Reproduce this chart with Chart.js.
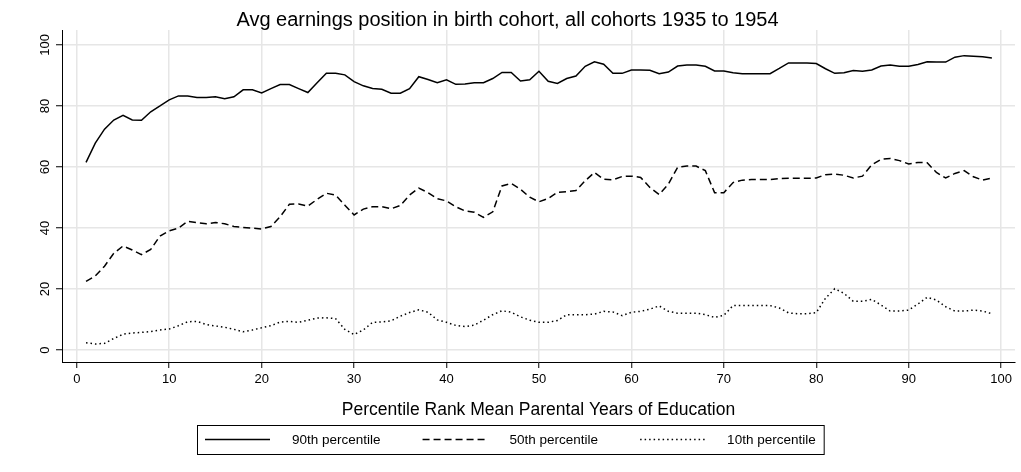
<!DOCTYPE html>
<html>
<head>
<meta charset="utf-8">
<script src="https://cdn.jsdelivr.net/npm/chart.js@4/dist/chart.umd.min.js"></script>
<style>
  html, body { margin: 0; padding: 0; background: #fff; }
  #wrap { width: 1021px; height: 472px; }
</style>
</head>
<body>
<div id="wrap"><canvas id="chart" width="1021" height="472"></canvas></div>
<script>
// percentile rank of mean parental years of education
const ranks = [1, 2, 3, 4, 5, 6, 7, 8, 9, 10, 11, 12, 13, 14, 15, 16, 17, 18, 19, 20,
  21, 22, 23, 24, 25, 26, 27, 28, 29, 30, 31, 32, 33, 34, 35, 36, 37, 38, 39, 40,
  41, 42, 43, 44, 45, 46, 47, 48, 49, 50, 51, 52, 53, 54, 55, 56, 57, 58, 59, 60,
  61, 62, 63, 64, 65, 66, 67, 68, 69, 70, 71, 72, 73, 74, 75, 76, 77, 78, 79, 80,
  81, 82, 83, 84, 85, 86, 87, 88, 89, 90, 91, 92, 93, 94, 95, 96, 97, 98, 99];

const p90 = [61.5, 67.8, 72.4, 75.4, 76.9, 75.4, 75.3, 78.1, 80.0, 82.0,
  83.3, 83.3, 82.8, 82.8, 83.0, 82.4, 83.0, 85.3, 85.3, 84.3,
  85.7, 87.0, 87.0, 85.7, 84.4, 87.6, 90.7, 90.7, 90.2, 88.0,
  86.6, 85.7, 85.5, 84.2, 84.2, 85.7, 89.6, 88.7, 87.6, 88.6,
  87.1, 87.2, 87.6, 87.6, 89.0, 91.0, 91.0, 88.2, 88.6, 91.4,
  88.1, 87.4, 89.0, 89.8, 93.0, 94.5, 93.7, 90.7, 90.7, 91.8,
  91.8, 91.7, 90.6, 91.1, 93.1, 93.4, 93.4, 93.0, 91.5, 91.5,
  90.9, 90.6, 90.6, 90.6, 90.6, 92.3, 94.1, 94.1, 94.1, 93.9,
  92.2, 90.7, 90.9, 91.6, 91.4, 91.8, 93.1, 93.4, 93.0, 93.0,
  93.6, 94.5, 94.4, 94.4, 96.0, 96.5, 96.3, 96.1, 95.7];

const p50 = [22.5, 24.3, 27.5, 31.7, 34.1, 32.8, 31.3, 33.0, 37.4, 39.1,
  40.0, 42.2, 41.8, 41.4, 41.8, 41.4, 40.5, 40.2, 40.0, 39.7,
  40.5, 43.7, 47.8, 47.9, 47.2, 49.4, 51.4, 50.8, 47.5, 44.3,
  46.2, 47.0, 47.0, 46.3, 47.4, 50.8, 53.1, 51.6, 49.6, 48.9,
  47.0, 45.6, 45.2, 43.5, 45.3, 53.8, 54.6, 52.7, 50.1, 48.6,
  49.7, 51.7, 51.9, 52.3, 55.5, 58.2, 56.0, 55.8, 56.9, 57.0,
  56.6, 53.3, 51.0, 54.4, 59.9, 60.3, 60.3, 58.8, 51.6, 51.6,
  54.9, 55.7, 55.9, 55.9, 55.9, 56.2, 56.3, 56.3, 56.3, 56.4,
  57.5, 57.7, 57.3, 56.4, 57.0, 60.7, 62.5, 62.8, 62.1, 61.0,
  61.5, 61.4, 58.2, 56.4, 57.9, 58.8, 56.8, 55.7, 56.4];

const p10 = [2.4, 2.0, 2.2, 3.8, 5.2, 5.6, 5.8, 6.1, 6.6, 6.9,
  8.0, 9.3, 9.4, 8.4, 7.9, 7.5, 6.8, 6.0, 6.6, 7.3,
  8.0, 9.2, 9.4, 9.1, 9.8, 10.5, 10.6, 10.3, 6.8, 5.1,
  6.6, 9.1, 9.2, 9.6, 11.1, 12.3, 13.2, 12.4, 9.9, 9.1,
  8.1, 7.7, 8.2, 9.8, 11.6, 12.9, 12.4, 10.9, 9.8, 9.1,
  9.1, 9.7, 11.6, 11.6, 11.6, 11.8, 12.7, 12.5, 11.3, 12.4,
  12.7, 13.4, 14.5, 12.7, 12.1, 12.1, 12.1, 11.6, 10.7, 11.4,
  14.6, 14.6, 14.6, 14.6, 14.6, 13.8, 12.2, 11.9, 11.9, 12.3,
  17.0, 20.1, 18.6, 16.0, 16.0, 16.6, 14.8, 12.8, 12.8, 13.1,
  15.1, 17.3, 16.4, 14.2, 12.8, 12.8, 13.1, 12.8, 11.9];

const xTicks = [0, 10, 20, 30, 40, 50, 60, 70, 80, 90, 100];
const yTicks = [0, 20, 40, 60, 80, 100];

const FONT = "'Liberation Sans', Arial, sans-serif";
Chart.defaults.font.family = FONT;
Chart.defaults.color = '#000';

const toPoints = vals => ranks.map((r, i) => ({ x: r, y: vals[i] }));

// Stata-like boxed legend under the x-axis title
const boxLegend = {
  id: 'boxLegend',
  afterDraw(chart) {
    const ctx = chart.ctx;
    const sets = chart.data.datasets;
    const sample = 65, gapText = 22, gapItem = 42, padX = 8;
    ctx.save();
    ctx.font = '13.5px ' + FONT;
    const widths = sets.map(d => sample + gapText + ctx.measureText(d.label).width);
    const total = widths.reduce((a, b) => a + b, 0) + gapItem * (sets.length - 1);
    const top = chart.height - 47, h = 29, cy = top + h / 2;
    let x = Math.round(chart.width / 2 - total / 2);
    ctx.strokeStyle = '#000';
    ctx.lineWidth = 1;
    ctx.strokeRect(x - padX + 0.5, top + 0.5, total + padX * 2, h);
    sets.forEach((d, i) => {
      ctx.beginPath();
      ctx.setLineDash(d.borderDash || []);
      ctx.lineWidth = d.borderWidth;
      ctx.moveTo(x, cy);
      ctx.lineTo(x + sample, cy);
      ctx.stroke();
      ctx.setLineDash([]);
      ctx.fillStyle = '#000';
      ctx.textBaseline = 'middle';
      ctx.fillText(d.label, x + sample + gapText, cy + 1);
      x += widths[i] + gapItem;
    });
    ctx.restore();
  }
};

new Chart(document.getElementById('chart'), {
  type: 'line',
  data: {
    datasets: [
      { label: '90th percentile', data: toPoints(p90), borderColor: '#000', borderWidth: 1.5, pointRadius: 0, tension: 0 },
      { label: '50th percentile', data: toPoints(p50), borderColor: '#000', borderWidth: 1.5, borderDash: [7, 4], pointRadius: 0, tension: 0 },
      { label: '10th percentile', data: toPoints(p10), borderColor: '#000', borderWidth: 1.5, borderDash: [1.5, 3], pointRadius: 0, tension: 0 }
    ]
  },
  options: {
    responsive: false,
    animation: false,
    devicePixelRatio: 1,
    layout: { padding: { top: 0, right: 6, bottom: 50, left: 0 } },
    plugins: {
      legend: { display: false },
      tooltip: { enabled: false },
      title: {
        display: true,
        text: 'Avg earnings position in birth cohort, all cohorts 1935 to 1954',
        color: '#000',
        font: { size: 20, weight: 'normal', lineHeight: 1 },
        padding: { top: 10, bottom: 0 }
      }
    },
    scales: {
      x: {
        type: 'linear',
        min: -1.6,
        max: 101.5,
        afterBuildTicks: s => { s.ticks = xTicks.map(v => ({ value: v })); },
        afterFit: s => { s.height = 60; },
        grid: { color: '#e6e6e6', lineWidth: 1.5, tickColor: '#000', tickWidth: 1, tickLength: 6 },
        border: { display: true, color: '#000', width: 1 },
        ticks: { color: '#000', font: { size: 13 }, padding: 4, maxRotation: 0, autoSkip: false },
        title: {
          display: true,
          text: 'Percentile Rank Mean Parental Years of Education',
          color: '#000',
          font: { size: 17.5 },
          padding: { top: 0, bottom: 1.5 }
        }
      },
      y: {
        min: -3.9,
        max: 104.9,
        afterBuildTicks: s => { s.ticks = yTicks.map(v => ({ value: v })); },
        afterFit: s => { s.width = 62; },
        grid: { color: '#e6e6e6', lineWidth: 1.5, tickColor: '#000', tickWidth: 1, tickLength: 6 },
        border: { display: true, color: '#000', width: 1 },
        ticks: { color: '#000', font: { size: 13 }, padding: 0, minRotation: 90, maxRotation: 90, crossAlign: 'center', autoSkip: false }
      }
    }
  },
  plugins: [boxLegend]
});
</script>
</body>
</html>
